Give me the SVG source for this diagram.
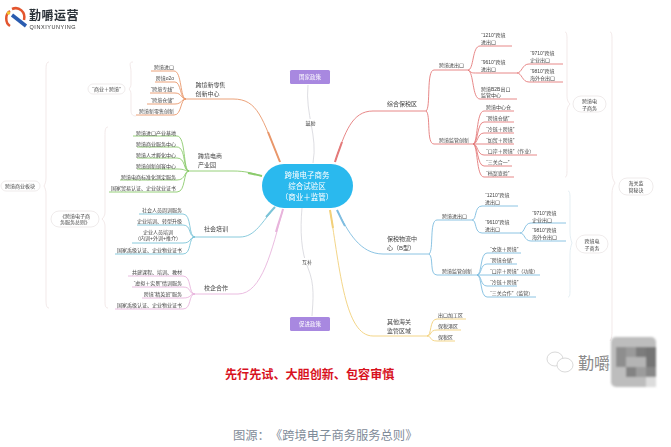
<svg xmlns="http://www.w3.org/2000/svg" width="671" height="447" viewBox="0 0 671 447">
<defs>
<filter id="soft" x="-5%" y="-5%" width="110%" height="110%"><feGaussianBlur stdDeviation="0.3"/></filter>
<filter id="softer" x="-20%" y="-20%" width="140%" height="140%"><feGaussianBlur stdDeviation="1"/></filter>
<marker id="arr" markerWidth="6" markerHeight="6" refX="4" refY="2.5" orient="auto"><path d="M0 0L5 2.5L0 5Z" fill="#b9a6e6"/></marker>
</defs>
<style>
text{font-family:"Liberation Sans","Noto Sans CJK SC",sans-serif;fill:#444;text-spacing-trim:space-all}
.s{font-size:5px}.m{font-size:6px}
.e{text-anchor:end}.c{text-anchor:middle}
.w{fill:#fff;font-size:7.5px;text-anchor:middle}
.p{fill:#fff;font-size:5.5px;text-anchor:middle}
.pill{fill:#fff;stroke:#e8e2e2;stroke-width:.7}
.purple{fill:#a888e0}
path{fill:none}
.or{stroke:#e9976b}.gr{stroke:#8bcb6c}.cy{stroke:#7cc4d8}.pk{stroke:#e8b4dc}.rd{stroke:#e47a7a}.bl{stroke:#7fbde0}.ye{stroke:#f2d07a}
.t{stroke-width:.9}.k{stroke-width:2}
.br{stroke:#ecdfe0;stroke-width:.7}
.arrow{stroke:#cfcfd6;stroke-width:.7}
</style>
<g filter="url(#soft)">
<g id="logo">
<path d="M10 11C5 14 5 23 10 26" style="stroke:#e3552f;stroke-width:2.5"/>
<path d="M12 9C19 6 26 12 24 20" style="stroke:#e3552f;stroke-width:2.5"/>
<path d="M12 15L26 26" style="stroke:#2a5bb0;stroke-width:3.5"/>
<circle cx="8.500" cy="13" r="1.800" fill="#f2c230"/>
<text x="29" y="20" style="font-size:12px;letter-spacing:.5px;font-weight:700;fill:#2b3038">勤嚼运营</text>
<text x="29.500" y="28.500" style="font-size:5.500px;letter-spacing:.55px;fill:#333">QINXIYUNYING</text>
</g>
<g id="connectors">
<path class="or t" d="M186 99H233C258 99 262 118 280 162"/><path class="or k" d="M268 132C272 142 276 152 280 162"/>
<path class="or t" d="M186 99C180 99 182 71 174 71H151M186 99C180 99 181 82 175 82H155M186 99C181 99 182 93 175 93H150M186 99C181 99 182 104 175 104H147M186 99C180 99 182 115 174 115H136"/>
<path class="gr t" d="M189 171H233C245 171 252 173 262 176"/><path class="gr k" d="M248 173C253 174 258 175 262 176"/>
<path class="gr t" d="M189 171C183 171 186 136 177 136H133M189 171C183 171 186 147 177 147H137M189 171C183 171 186 158 177 158H137M189 171C184 171 186 169 177 169H137M189 171C184 171 186 180 177 180H120M189 171C183 171 186 192 177 192H109"/>
<path class="cy t" d="M195 237H240C255 237 262 222 275 207"/><path class="cy k" d="M266 217C269 214 272 210 275 207"/>
<path class="cy t" d="M195 237C188 237 192 214 183 214H139M195 237C188 237 192 225 183 225H137M195 237C189 237 192 243 183 243H132M195 237C188 237 192 254 183 254H115"/>
<path class="pk t" d="M195 294H238C262 294 272 250 283 209"/><path class="pk k" d="M276 232C278 224 281 217 283 209"/>
<path class="pk t" d="M195 294C188 294 192 276 183 276H128M195 294C188 294 192 287 183 287H132M195 294C189 294 192 298 183 298H142M195 294C188 294 192 309 183 309H115"/>
<path class="rd t" d="M426 111H373C352 111 345 132 335 162"/><path class="rd k" d="M342 142C340 148 337 155 335 162"/>
<path class="rd t" d="M426 111C431 108 426 70 434 70H468M426 111C431 114 426 144 434 144H473"/>
<path class="rd t" d="M468 70C474 70 472 46 480 46H512M468 70C473 73 470 73 478 73H517M468 70C474 72 472 99 480 99H517M517 73C522 73 522 64 529 64H563M517 73C522 73 522 82 529 82H563"/>
<path class="rd t" d="M473 144C478 144 476 111 484 111H514M473 144C478 144 477 122 484 122H514M473 144C478 144 477 133 484 133H514M473 144H514M473 144C478 144 477 155 484 155H537M473 144C478 144 477 166 484 166H512M473 144C478 144 476 177 484 177H514"/>
<path class="bl t" d="M429 254H383C360 254 348 232 337 210"/><path class="bl k" d="M345 226C342 221 340 216 337 210"/>
<path class="bl t" d="M429 254C434 251 429 220 437 220H472M429 254C434 257 429 275 437 275H477"/>
<path class="bl t" d="M472 220C477 220 474 206 482 206H518M472 220C477 220 474 233 482 233H520M520 233C525 233 524 223 531 223H566M520 233C525 233 524 241 531 241H566"/>
<path class="bl t" d="M477 275C482 275 480 253 487 253H521M477 275C482 275 480 264 487 264H517M477 275H540M477 275C482 275 480 286 487 286H517M477 275C482 275 480 297 487 297H536"/>
<path class="ye t" d="M427 336H373C345 336 340 270 330 210"/><path class="ye k" d="M333 228C332 222 331 216 330 210"/>
<path class="ye t" d="M427 336C432 336 429 319 437 319H466M427 336C432 336 429 330 437 330H461M427 336C432 336 429 341 437 341H455"/>
<path class="arrow" d="M313 163C318 135 305 115 308 85" marker-end="url(#arr)"/>
<path class="arrow" d="M302 208C300 230 301 252 308 268C315 285 313 300 312 316" marker-end="url(#arr)"/>
<path class="br" d="M133 62C128 62 131 66 131 72V84C131 86 130 88 129 89C130 90 131 92 131 94V110C131 114 132 116 136 116"/>
<path class="br" d="M49 62C46 62 46 66 46 72V178C46 182 45 184 44 186C45 188 46 190 46 194V298C46 304 46 308 49 308"/>
<path class="br" d="M108 127C105 127 105 131 105 136V212C105 215 104 217 102 219C104 221 105 223 105 226V300C105 305 105 308 108 308"/>
<path class="br" d="M565 32C567 32 567 36 567 42V96C567 100 568 102 570 104C568 106 567 108 567 112V168C567 174 567 177 565 177"/>
<path class="br" d="M610 32C612 32 612 36 612 42V172C612 177 613 180 615 183C613 186 612 189 612 194V330C612 335 612 338 610 341"/>
<path class="br" style="stroke:#d9e6ee" d="M568 191C570 191 570 195 570 200V232C570 237 571 240 572 243C571 246 570 249 570 254V288C570 294 570 297 568 297"/>
</g>
<g id="center"><rect x="262" y="164" width="91" height="44" rx="22" fill="#2bb9ee"/><text class="w" x="307" y="178">跨境电子商务</text><text class="w" x="307" y="189">综合试验区</text><text class="w" x="307" y="200">（商业＋监管）</text></g>
<g id="policy-a"><rect class="purple" x="290" y="70" width="40" height="14" rx="1.500"/><text class="p" x="310" y="79">国家政策</text></g>
<g id="policy-b"><rect class="purple" x="290" y="317" width="40" height="14" rx="1.500"/><text class="p" x="310" y="326">促进政策</text></g>
<g id="edge-label-a"><rect x="304" y="119" width="13" height="7" fill="#fff"/><text class="s c" x="310.500" y="125">鼓励</text></g>
<g id="edge-label-b"><rect x="300" y="258" width="14" height="7" fill="#fff"/><text class="s c" x="307" y="264">互补</text></g>
<g id="n-retail"><text class="m" x="195.500" y="86.500">跨境新零售</text><text class="m" x="195.500" y="95.500">创新中心</text></g>
<g id="n-retail-kids" class="s"><text class="s e" x="174" y="68.500">跨境进口</text><text class="s e" x="174" y="79.500">跨境o2o</text><text class="s e" x="174" y="90.500">“跨境专线”</text><text class="s e" x="174" y="101.500">“跨境仓储”</text><text class="s e" x="174" y="112.500">跨境新零售创新</text></g>
<g id="n-park"><text class="m" x="198" y="158">跨境电商</text><text class="m" x="198" y="167">产业园</text></g>
<g id="n-park-kids"><text class="s e" x="176" y="134.500">跨境进口产业基地</text><text class="s e" x="176" y="145.500">跨境商业服务中心</text><text class="s e" x="176" y="156.500">跨境人才孵化中心</text><text class="s e" x="176" y="167.500">跨境创新创客中心</text><text class="s e" x="176" y="178.500">跨境电商标准化测定服务</text><text class="s e" x="176" y="190">国家贸易认证、企业就业证书</text></g>
<g id="n-train"><text class="m" x="204" y="231">社会培训</text></g>
<g id="n-train-kids"><text class="s e" x="182" y="211.500">社会人员周训服务</text><text class="s e" x="182" y="223">企业培训、转型升级</text><text class="s c" x="158" y="233.500">企业人员培训</text><text class="s c" x="158" y="240">（内训+外训+推介）</text><text class="s e" x="182" y="251.500">国家禹级认证、企业物业证书</text></g>
<g id="n-school"><text class="m" x="204" y="290">校企合作</text></g>
<g id="n-school-kids"><text class="s e" x="182" y="273.500">共建课程、培训、教材</text><text class="s e" x="182" y="285">“虚拟＋实景”情训服务</text><text class="s e" x="182" y="295.500">跨境“精英班”服务</text><text class="s e" x="182" y="306.500">国家禹级认证、企业物业证书</text></g>
<g id="n-pill-a"><rect class="pill" x="88" y="84" width="37" height="10" rx="5"/><text class="s c" x="106.500" y="90.700">“商业＋跨境”</text></g>
<g id="n-pill-b"><rect class="pill" x="1" y="181" width="39" height="10" rx="5"/><text class="s c" x="20" y="188">跨境商业板块</text></g>
<g id="n-pill-c"><rect class="pill" x="51" y="211" width="48" height="16" rx="8"/><text class="s" x="60" y="217.500">《跨境电子商</text><text class="s" x="60" y="224">务服务总则》</text></g>
<g id="n-bond"><text class="m" x="387" y="106">综合保税区</text><text class="s" x="439" y="67">跨境进出口</text><text class="s" x="439" y="142">跨境监管创新</text></g>
<g id="n-bond-kids"><text class="s" x="481" y="37">“1210”跨境</text><text class="s" x="481" y="44">进出口</text><text class="s" x="481" y="64">“9610”跨境</text><text class="s" x="481" y="71">进出口</text><text class="s" x="481" y="91">跨境B2B出口</text><text class="s" x="481" y="97">监管中心</text><text class="s" x="530" y="55">“9710”跨境</text><text class="s" x="530" y="62">企业出口</text><text class="s" x="530" y="73">“9810”跨境</text><text class="s" x="530" y="80">海外仓出口</text>
<text class="s" x="486" y="108.500">跨境中心仓</text><text class="s" x="486" y="119.500">“跨境仓储”</text><text class="s" x="486" y="130.500">“冷链＋跨境”</text><text class="s" x="486" y="141.500">“加贸＋跨境”</text><text class="s" x="486" y="153">“口岸＋跨境”（作业）</text><text class="s" x="486" y="163.500">“三关合一”</text><text class="s" x="486" y="175">“档案查验”</text></g>
<g id="n-pill-d"><rect class="pill" x="573" y="96" width="33" height="16" rx="8"/><text class="s c" x="589.500" y="103">跨境电</text><text class="s c" x="589.500" y="109.500">子商务</text></g>
<g id="n-pill-e"><rect class="pill" x="619" y="178" width="34" height="17" rx="8"/><text class="s c" x="636" y="185">海关监</text><text class="s c" x="636" y="192">管秘诀</text></g>
<g id="n-logi"><text class="m" x="387" y="241">保税物流中</text><text class="m" x="387" y="250">心（B型）</text><text class="s" x="442" y="218">跨境进出口</text><text class="s" x="442" y="272.500">跨境监管创新</text></g>
<g id="n-logi-kids"><text class="s" x="485" y="197">“1210”跨境</text><text class="s" x="485" y="204">进出口</text><text class="s" x="485" y="224">“9610”跨境</text><text class="s" x="485" y="231">进出口</text><text class="s" x="532" y="215">“9710”跨境</text><text class="s" x="532" y="221.500">企业出口</text><text class="s" x="532" y="232">“9810”跨境</text><text class="s" x="532" y="239">海外仓出口</text>
<text class="s" x="490" y="251">“文旅＋跨境”</text><text class="s" x="490" y="261.500">“跨境仓储”</text><text class="s" x="490" y="273">“口岸＋跨境”（功能）</text><text class="s" x="490" y="284">“冷链＋跨境”</text><text class="s" x="490" y="295">“三关合作”（监管）</text></g>
<g id="n-pill-f"><rect class="pill" x="576" y="235" width="32" height="18" rx="9"/><text class="s c" x="592" y="243">跨境电</text><text class="s c" x="592" y="249.500">子商务</text></g>
<g id="n-other"><text class="m" x="387" y="323.500">其他海关</text><text class="m" x="387" y="332.500">监管区域</text><text class="s" x="438" y="316.500">出口加工区</text><text class="s" x="438" y="327.500">保税港区</text><text class="s" x="438" y="338.500">保税区</text></g>
</g>
<text x="225" y="379" style="font-size:12.100px;font-weight:700;fill:#d8121e">先行先试、大胆创新、包容审慎</text>
<text x="233" y="440" style="font-size:12.300px;fill:#7f8c99">图源：《跨境电子商务服务总则》</text>
<g id="watermark">
<ellipse cx="555" cy="359" rx="8" ry="7" fill="#fff" stroke="#c8c8c8" stroke-width=".7"/>
<ellipse cx="565" cy="365" rx="8" ry="7" fill="#fff" stroke="#c8c8c8" stroke-width=".7"/>
<text x="578" y="369" style="font-size:16px;fill:#8a8a8a">勤嚼</text>
<g filter="url(#softer)">
<rect x="611" y="337" width="45" height="50" rx="5" fill="#bdbdbd"/>
<rect x="616" y="347" width="10" height="20" fill="#8e8e8e"/>
<rect x="626" y="347" width="10" height="10" fill="#9a9a9a"/>
<rect x="636" y="347" width="10" height="10" fill="#7c7c7c"/>
<rect x="646" y="347" width="10" height="20" fill="#757575"/>
<rect x="626" y="357" width="20" height="10" fill="#b4b4b4"/>
<rect x="636" y="367" width="10" height="10" fill="#9c9c9c"/>
<rect x="626" y="367" width="10" height="10" fill="#838383"/>
<rect x="646" y="367" width="10" height="10" fill="#888"/>
<rect x="646" y="377" width="10" height="10" fill="#dcdcdc"/>
</g>
</g>
</svg>
